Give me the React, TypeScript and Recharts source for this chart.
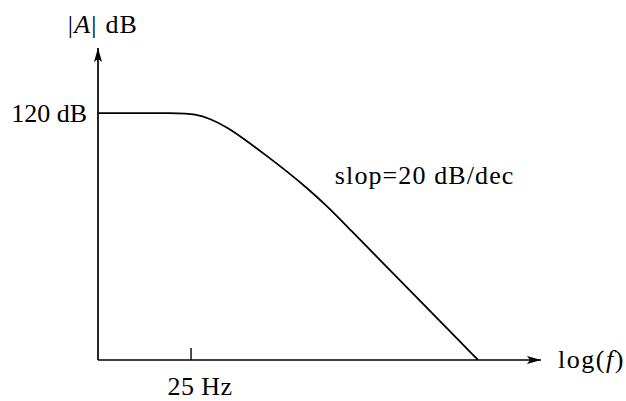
import { Line, LineChart, ReferenceDot, XAxis, YAxis } from "recharts";

const FONT = '"Liberation Serif", "Times New Roman", serif';

// curve: x is log10(f), y is |A| in dB
const logFreq = [-0.854, 1.131, 1.495, 1.858, 2.269, 2.754, 3.238, 3.722, 4.207, 4.691, 5.248, 5.974, 6.7, 7.427, 8.347];
const gainDb = [120, 120, 119.5, 117.3, 113.2, 106.4, 99.1, 91.6, 83.6, 74.8, 63.4, 48.6, 33.7, 18.8, 0];

const xTicks = [Math.log10(25)];
const xTickLabels = ["25 Hz"];
const yTicks = [120];
const yTickLabels = ["120 dB"];

const slopeNote = "slop=20 dB/dec";
const slopeNoteAt = { x: 4.88, y: 89.9 };

const data = logFreq.map((x, i) => ({ x, gain: gainDb[i] }));

const YTitle = ({ viewBox }: any) => (
    <text
        x={viewBox.x + viewBox.width + 5}
        y={viewBox.y - 15}
        textAnchor="middle"
        fontFamily={FONT}
        fontSize={26}
        fill="#000"
        style={{ letterSpacing: 1.2 }}
    >
        |<tspan fontStyle="italic">A</tspan>| dB
    </text>
);

const XTitle = ({ viewBox }: any) => (
    <text
        x={viewBox.x + viewBox.width + 17}
        y={viewBox.y + 8}
        fontFamily={FONT}
        fontSize={26}
        fill="#000"
        style={{ letterSpacing: 1.5 }}
    >
        log(<tspan fontStyle="italic">f</tspan>)
    </text>
);

export default function App() {
    return (
        <div style={{ position: "absolute", left: 0, top: 0, background: "#fff" }}>
            <LineChart
                width={626}
                height={401}
                data={data}
                margin={{ top: 48, right: 85, bottom: 0, left: 0 }}
            >
                <defs>
                    <marker
                        id="arrowHead"
                        viewBox="0 0 14 8"
                        refX="14"
                        refY="4"
                        markerWidth="14"
                        markerHeight="8"
                        markerUnits="userSpaceOnUse"
                        orient="auto-start-reverse"
                    >
                        <path d="M0,0 L14,4 L0,8 L3,4 z" fill="#000" />
                    </marker>
                </defs>
                <XAxis
                    dataKey="x"
                    type="number"
                    domain={[-0.854, 9.87]}
                    ticks={xTicks}
                    tickFormatter={(v, i) => xTickLabels[i] ?? String(v)}
                    height={41}
                    tickSize={-12}
                    tickMargin={29}
                    tick={{ fontFamily: FONT, fontSize: 26, fill: "#000", dx: 9, style: { letterSpacing: 0.4 } }}
                    tickLine={{ stroke: "#000", strokeWidth: 1.4 }}
                    axisLine={{ stroke: "#000", strokeWidth: 1.7, markerEnd: "url(#arrowHead)" }}
                    allowDataOverflow
                    label={<XTitle />}
                />
                <YAxis
                    type="number"
                    domain={[0, 151.6]}
                    ticks={yTicks}
                    tickFormatter={(v, i) => yTickLabels[i] ?? String(v)}
                    width={98}
                    tickLine={false}
                    tickSize={6}
                    tickMargin={5}
                    tick={{ fontFamily: FONT, fontSize: 26, fill: "#000" }}
                    axisLine={{ stroke: "#000", strokeWidth: 1.7, markerStart: "url(#arrowHead)" }}
                    allowDataOverflow
                    label={<YTitle />}
                />
                <Line
                    type="basis"
                    dataKey="gain"
                    stroke="#000"
                    strokeWidth={1.8}
                    dot={false}
                    activeDot={false}
                    isAnimationActive={false}
                />
                <ReferenceDot
                    x={slopeNoteAt.x}
                    y={slopeNoteAt.y}
                    r={0}
                    fill="none"
                    stroke="none"
                    label={{
                        value: slopeNote,
                        position: "right",
                        offset: 0,
                        fontFamily: FONT,
                        fontSize: 26,
                        fill: "#000",
                        style: { letterSpacing: 1.1 },
                    }}
                />
            </LineChart>
        </div>
    );
}
